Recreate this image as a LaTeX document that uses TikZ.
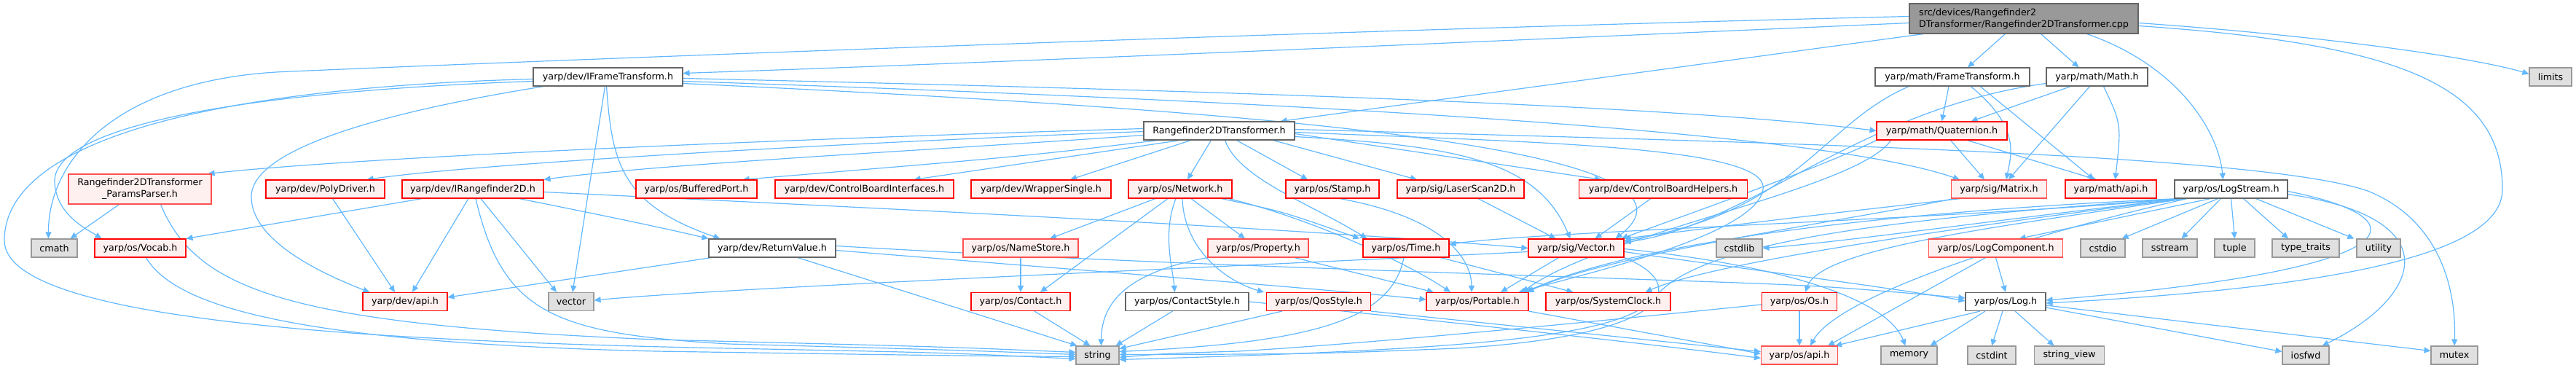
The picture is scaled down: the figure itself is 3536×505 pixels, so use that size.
\documentclass[tikz,border=0pt]{standalone}
\usepackage{fontspec}
\setmainfont{DejaVu Sans}
\usetikzlibrary{arrows.meta,backgrounds}
\definecolor{edgeblue}{HTML}{63B8FF}
\definecolor{pinkfill}{HTML}{FFF0F0}
\definecolor{darkgr}{HTML}{666666}
\definecolor{midgr}{HTML}{999999}
\definecolor{lightgr}{HTML}{E0E0E0}
\definecolor{softred}{HTML}{FF5050}
\tikzset{
  nb/.style={draw, rectangle, minimum height=25, inner sep=0pt, line width=1.1pt, text=black, font=\fontsize{12.7}{16}\selectfont},
  wn/.style={nb, draw=darkgr, fill=white},
  rn/.style={nb, draw=red, fill=pinkfill},
  rs/.style={nb, draw=softred, fill=pinkfill},
  gn/.style={nb, draw=midgr, fill=lightgr},
  mn/.style={nb, draw=darkgr, fill=midgr, align=left, minimum height=41},
  edge/.style={draw=edgeblue, line width=1.2pt, -{Triangle[length=9pt,width=8pt]}},
}
\begin{document}
\begin{tikzpicture}[x=1pt,y=-1pt]
\useasboundingbox (0,0) rectangle (3536,505);
% row 1
\node[mn, minimum width=314] (M) at (2778,25.5) {src/devices/Rangefinder2\\DTransformer/Rangefinder2DTransformer.cpp};
% row 2
\node[wn, minimum width=205] (IFT) at (834.5,105.5) {yarp/dev/IFrameTransform.h};
\node[wn, minimum width=212] (FT) at (2680,105.5) {yarp/math/FrameTransform.h};
\node[wn, minimum width=139] (MA) at (2878.5,105.5) {yarp/math/Math.h};
\node[gn, minimum width=58] (LIM) at (3501,105.5) {limits};
% row 3
\node[wn, minimum width=207] (RH) at (1673.5,179.5) {Rangefinder2DTransformer.h};
\node[rn, minimum width=179] (QU) at (2665.5,179.5) {yarp/math/Quaternion.h};
% row 4
\node[rs, minimum width=196, minimum height=41, align=center] (PP) at (192,259.5) {Rangefinder2DTransformer\\\_ParamsParser.h};
\node[rn, minimum width=163] (PD) at (446.5,259.5) {yarp/dev/PolyDriver.h};
\node[rn, minimum width=194] (IR) at (649,259.5) {yarp/dev/IRangefinder2D.h};
\node[rn, minimum width=166] (BP) at (956,259.5) {yarp/os/BufferedPort.h};
\node[rn, minimum width=245] (CBI) at (1186.5,259.5) {yarp/dev/ControlBoardInterfaces.h};
\node[rn, minimum width=192] (WS) at (1429,259.5) {yarp/dev/WrapperSingle.h};
\node[rn, minimum width=142] (NW) at (1620,259.5) {yarp/os/Network.h};
\node[rn, minimum width=128] (ST) at (1829,259.5) {yarp/os/Stamp.h};
\node[rn, minimum width=174] (LSD) at (2005,259.5) {yarp/sig/LaserScan2D.h};
\node[rn, minimum width=231] (CBH) at (2283,259.5) {yarp/dev/ControlBoardHelpers.h};
\node[rs, minimum width=131] (MX) at (2744,259.5) {yarp/sig/Matrix.h};
\node[rn, minimum width=125] (MAPI) at (2897.5,259.5) {yarp/math/api.h};
\node[wn, minimum width=155] (LS) at (3062.5,259.5) {yarp/os/LogStream.h};
% row 5
\node[gn, minimum width=63] (CM) at (74.5,340.5) {cmath};
\node[rn, minimum width=125] (VO) at (192.5,340.5) {yarp/os/Vocab.h};
\node[wn, minimum width=174] (RV) at (1060,340.5) {yarp/dev/ReturnValue.h};
\node[rs, minimum width=158] (NS) at (1401,340.5) {yarp/os/NameStore.h};
\node[rs, minimum width=138] (PR) at (1727,340.5) {yarp/os/Property.h};
\node[rn, minimum width=118] (TI) at (1930,340.5) {yarp/os/Time.h};
\node[rn, minimum width=131] (VC) at (2163.5,340.5) {yarp/sig/Vector.h};
\node[gn, minimum width=63] (CSL) at (2387.5,340.5) {cstdlib};
\node[rs, minimum width=184] (LC) at (2739.5,340.5) {yarp/os/LogComponent.h};
\node[gn, minimum width=61] (CSI) at (2886.5,340.5) {cstdio};
\node[gn, minimum width=75] (SS) at (2978.5,340.5) {sstream};
\node[gn, minimum width=55] (TU) at (3067.5,340.5) {tuple};
\node[gn, minimum width=92] (TT) at (3165,340.5) {type\_traits};
\node[gn, minimum width=60] (UT) at (3265,340.5) {utility};
% row 6
\node[rn, minimum width=116] (DAPI) at (556,414) {yarp/dev/api.h};
\node[gn, minimum width=62] (VE) at (784,414) {vector};
\node[rn, minimum width=136] (CO) at (1401,414) {yarp/os/Contact.h};
\node[wn, minimum width=169] (CS) at (1629.5,414) {yarp/os/ContactStyle.h};
\node[rn, minimum width=143] (QO) at (1810,414) {yarp/os/QosStyle.h};
\node[rn, minimum width=140] (PO) at (2028,414) {yarp/os/Portable.h};
\node[rn, minimum width=171] (SC) at (2207.5,414) {yarp/os/SystemClock.h};
\node[rn, minimum width=103] (OS) at (2470,414) {yarp/os/Os.h};
\node[wn, minimum width=110] (LG) at (2753,414) {yarp/os/Log.h};
% row 7
\node[gn, minimum width=59] (STR) at (1506.5,487.5) {string};
\node[rs, minimum width=105] (OAPI) at (2470,487.5) {yarp/os/api.h};
\node[gn, minimum width=77] (MEM) at (2620.5,487.5) {memory};
\node[gn, minimum width=66] (CI) at (2734,487.5) {cstdint};
\node[gn, minimum width=96] (SV) at (2840.5,487.5) {string\_view};
\node[gn, minimum width=64] (IOS) at (3165,487.5) {iosfwd};
\node[gn, minimum width=64] (MU) at (3369,487.5) {mutex};

\begin{pgfonlayer}{background}
% ---- edges from main
\draw[edge] ([yshift=3]M.west) .. controls (1800,42) and (700,85) .. (400,98) .. controls (160,106) and (66,220) .. ([xshift=-8]CM.north);
\draw[edge] ([yshift=-6]M.west) .. controls (2200,50) and (1400,85) .. ([yshift=5]IFT.east);
\draw[edge] ([xshift=20]M.south west) -- ([xshift=-20]RH.north east);
\draw[edge] ([xshift=132]M.south west) -- ([xshift=21]FT.north);
\draw[edge] ([xshift=181]M.south west) -- ([xshift=-25]MA.north);
\draw[edge] ([xshift=244]M.south west) .. controls (2990,90) and (3045,180) .. ([xshift=-11]LS.north);
\draw[edge] ([yshift=-6]M.east) .. controls (3200,50) and (3400,80) .. ([yshift=4]LIM.west);
\draw[edge] ([yshift=-10]M.east) .. controls (3300,60) and (3435,120) .. (3435,260) .. controls (3435,350) and (3200,395) .. ([yshift=-2]LG.east);

% ---- IFrameTransform
\draw[edge] ([yshift=-3]IFT.west) .. controls (300,120) and (6,190) .. (6,330) .. controls (6,440) and (500,468) .. (1000,478) .. controls (1300,484) .. ([yshift=-5]STR.west);
\draw[edge] ([yshift=-6]IFT.west) .. controls (350,125) and (72,170) .. (75,250) .. controls (77,295) and (120,315) .. ([xshift=10]VO.north west);
\draw[edge] ([xshift=15]IFT.south west) .. controls (550,150) and (345,200) .. (345,270) .. controls (345,330) and (440,375) .. ([xshift=10]DAPI.north west);
\draw[edge] ([xshift=-4]IFT.south) -- ([xshift=2]VE.north);
\draw[edge] ([xshift=-2]IFT.south) .. controls (840,220) and (850,280) .. ([xshift=16]RV.north west);
\draw[edge] ([yshift=-2]IFT.east) .. controls (1700,125) and (2300,145) .. (QU.west);
\draw[edge] ([yshift=-6]IFT.east) .. controls (1800,140) and (2500,180) .. ([xshift=12]MX.north west);
\draw[edge] ([yshift=-9]IFT.east) .. controls (1700,150) and (2380,200) .. ([xshift=-12]VC.north east);

% ---- Rangefinder2DTransformer.h
\draw[edge] ([yshift=3]RH.west) .. controls (1100,190) and (500,215) .. ([xshift=-5]PP.north east);
\draw[edge] ([yshift=-1]RH.west) .. controls (1150,196) and (650,225) .. ([xshift=-25]PD.north east);
\draw[edge] ([yshift=-6]RH.west) .. controls (1300,205) and (900,225) .. (IR.north east);
\draw[edge] ([xshift=20]RH.south west) .. controls (1400,215) .. ([xshift=-20]BP.north east);
\draw[edge] ([xshift=50]RH.south west) -- ([xshift=-55]CBI.north east);
\draw[edge] ([xshift=65]RH.south west) -- ([xshift=40]WS.north);
\draw[edge] ([xshift=93]RH.south west) -- ([xshift=10]NW.north);
\draw[edge] ([xshift=8]RH.south) .. controls (1700,245) and (1800,280) .. ([xshift=6]TI.north west);
\draw[edge] ([xshift=-80]RH.south east) -- ([xshift=-34]ST.north);
\draw[edge] ([xshift=-30]RH.south east) -- ([xshift=-60]LSD.north);
\draw[edge] ([yshift=-4]RH.east) -- ([xshift=-85]CBH.north);
\draw[edge] ([yshift=-8]RH.east) .. controls (2000,200) and (2110,220) .. ([xshift=-8]VC.north);
\draw[edge] ([yshift=-2]RH.east) .. controls (2100,195) and (2430,200) .. (2420,260) .. controls (2410,320) and (2200,370) .. ([xshift=-14]PO.north east);
\draw[edge] ([yshift=2]RH.east) .. controls (2400,195) and (3100,210) .. (3250,262) .. controls (3345,300) and (3372,390) .. (MU.north);

% ---- IRangefinder2D
\draw[edge] ([xshift=28]IR.south west) -- (VO.north east);
\draw[edge] ([xshift=-6]IR.south) -- ([xshift=10]DAPI.north);
\draw[edge] ([xshift=11]IR.south) -- ([xshift=-20]VE.north);
\draw[edge] ([xshift=4]IR.south) .. controls (690,430) and (760,458) .. (1000,472) .. controls (1300,480) .. ([yshift=1]STR.west);
\draw[edge] ([xshift=-34]IR.south east) .. controls (850,300) and (920,315) .. (RV.north west);
\draw[edge] ([yshift=-4]IR.east) .. controls (1300,290) and (1800,315) .. (VC.west);

\draw[edge] ([xshift=10]PD.south) -- ([xshift=-14]DAPI.north);
\draw[edge] ([xshift=70]PP.south west) -- ([xshift=-10]CM.north east);
\draw[edge] ([xshift=-70]PP.south east) .. controls (270,400) and (400,445) .. (900,466) .. controls (1300,476) .. ([yshift=4]STR.west);
\draw[edge] ([xshift=8]VO.south) .. controls (240,420) and (400,470) .. (900,482) .. controls (1300,488) .. ([yshift=-2]STR.west);

% ---- ReturnValue
\draw[edge] ([xshift=4]RV.south west) -- ([yshift=6]DAPI.east);
\draw[edge] ([xshift=35]RV.south) -- ([xshift=2]STR.north west);
\draw[edge] ([yshift=-3]RV.east) .. controls (1500,372) and (1800,395) .. ([yshift=3]PO.west);
\draw[edge] ([yshift=3]RV.east) .. controls (1500,358) and (1800,368) .. (2300,385) .. controls (2500,392) .. ([yshift=5]LG.west);

% ---- Network
\draw[edge] ([xshift=-34]NW.south) -- ([xshift=40]NS.north);
\draw[edge] ([xshift=-17]NW.south) -- ([xshift=27]CO.north);
\draw[edge] ([xshift=-6]NW.south) .. controls (1595,320) and (1610,370) .. ([xshift=-17]CS.north);
\draw[edge] ([xshift=3]NW.south) .. controls (1625,340) and (1680,385) .. ([xshift=-3]QO.north west);
\draw[edge] ([xshift=15]NW.south) -- ([xshift=-18]PR.north);
\draw[edge] ([xshift=-15]NW.south east) .. controls (1760,290) .. ([xshift=-4]TI.north west);
\draw[edge] ([xshift=-5]NW.south east) .. controls (1800,300) and (1930,360) .. ([xshift=-37]PO.north);

\draw[edge] ([xshift=10]ST.south) .. controls (1990,300) and (2020,360) .. ([xshift=-8]PO.north);
\draw[edge] ([xshift=24]LSD.south) -- ([xshift=-28]VC.north);
\draw[edge] ([xshift=-17]CBH.south) -- ([xshift=26]VC.north);
\draw[edge] (PR.south west) .. controls (1540,375) and (1512,420) .. ([xshift=5]STR.north);
\draw[edge] ([xshift=50]PR.south) -- ([xshift=-60]PO.north);
\draw[edge] (NS) -- (CO);
\draw[edge] ([xshift=19]CO.south) -- ([xshift=-10]STR.north);
\draw[edge] ([xshift=-20]CS.south) -- ([xshift=-5]STR.north east);
\draw[edge] (CS.east) .. controls (1900,432) and (2250,470) .. ([yshift=-4]OAPI.west);
\draw[edge] ([xshift=-50]QO.south) -- ([yshift=9]STR.east);
\draw[edge] (QO.south east) -- ([yshift=5]OAPI.west);

% ---- Time, Vector, Portable, Os
\draw[edge] ([xshift=-3]TI.south) .. controls (1910,440) and (1800,470) .. ([yshift=5]STR.east);
\draw[edge] ([xshift=-12]TI.south east) -- ([xshift=-48]SC.north);
\draw[edge] ([xshift=-24]VC.south) -- ([xshift=32]PO.north);
\draw[edge] (VC.south east) .. controls (2320,390) and (2300,460) .. (2000,478) .. controls (1800,486) .. ([yshift=1]STR.east);
\draw[edge] ([yshift=-5]VC.east) .. controls (2400,370) and (2600,395) .. ([yshift=1]LG.west);
\draw[edge] ([yshift=-1]VC.east) .. controls (2450,365) and (2590,410) .. ([xshift=-5]MEM.north);
\draw[edge] ([yshift=-5]VC.west) .. controls (1600,370) and (1000,395) .. ([yshift=2]VE.east);
\draw[edge] (PO.south east) -- ([yshift=2]OAPI.west);
\draw[edge] (OS) -- (OAPI);
\draw[edge] ([yshift=-4]OS.west) .. controls (2200,440) and (1900,470) .. (1700,482) .. controls (1600,485) .. ([yshift=-3]STR.east);

% ---- Log, LogComponent
\draw[edge] ([xshift=-35]LG.south) -- ([xshift=-4]OAPI.north east);
\draw[edge] ([xshift=-28]LG.south) -- ([xshift=-10]MEM.north east);
\draw[edge] ([xshift=-4]LG.south) -- (CI.north);
\draw[edge] ([xshift=13]LG.south) -- ([xshift=-21]SV.north);
\draw[edge] ([yshift=-8]LG.east) -- ([yshift=5]IOS.west);
\draw[edge] ([yshift=-5]LG.east) -- ([yshift=6]MU.west);
\draw[edge] (LC.south) -- (LG.north);
\draw[edge] ([xshift=-14]LC.south) -- ([xshift=-14]OAPI.north east);

% ---- LogStream
\draw[edge] ([xshift=-28]LS.south) -- ([xshift=32]LC.north);
\draw[edge] ([xshift=-18]LS.south) -- ([xshift=-5]CSI.north east);
\draw[edge] ([xshift=-14]LS.south) -- ([xshift=16]SS.north);
\draw[edge] (LS.south) -- (TU.north);
\draw[edge] ([xshift=17]LS.south) -- ([xshift=-24]TT.north);
\draw[edge] ([xshift=34]LS.south) -- ([xshift=-3]UT.north west);
\draw[edge] ([yshift=-3]LS.east) .. controls (3330,300) and (3320,370) .. ([yshift=2]LG.east);
\draw[edge] ([yshift=-7]LS.east) .. controls (3370,300) and (3320,410) .. ([xshift=-10]IOS.north east);
\draw[edge] ([xshift=10]LS.south west) .. controls (2700,300) and (2100,318) .. ([yshift=5]TI.east);
\draw[edge] ([xshift=12]LS.south west) .. controls (2750,300) and (2550,330) .. (CSL.east);
\draw[edge] ([xshift=14]LS.south west) .. controls (2700,310) and (2350,360) .. ([xshift=-35]SC.north east);
\draw[edge] ([xshift=16]LS.south west) .. controls (2750,310) and (2500,340) .. ([xshift=8]OS.north);
\draw[edge] ([xshift=18]LS.south west) .. controls (2750,330) and (2520,410) .. ([xshift=15]OAPI.north);
\draw[edge] ([xshift=8]LS.south west) .. controls (2600,300) and (2330,330) .. (2270,410) .. controls (2220,465) and (2000,480) .. ([yshift=-6]STR.east);
\draw[edge] ([xshift=6]LS.south west) .. controls (2600,290) and (2250,330) .. ([xshift=-5]PO.north east);

% ---- Quaternion, Matrix
\draw[edge] ([xshift=12]QU.south) -- ([xshift=-20]MX.north);
\draw[edge] ([xshift=35]QU.south) -- ([xshift=-20]MAPI.north);
\draw[edge] (QU.south west) .. controls (2500,230) and (2300,300) .. ([xshift=-4]VC.north east);
\draw[edge] ([xshift=20]QU.south west) .. controls (2550,260) and (2200,320) .. ([xshift=-9]PO.north east);
\draw[edge] ([xshift=-53]MX.south) .. controls (2450,300) .. (VC.north east);
\draw[edge] ([xshift=-62]MX.south) .. controls (2550,300) and (2200,350) .. ([xshift=-2]PO.north east);

% ---- FrameTransform, Math
\draw[edge] ([xshift=-5]FT.south) -- (QU.north);
\draw[edge] ([xshift=25]FT.south) .. controls (2775,175) and (2760,215) .. ([xshift=10]MX.north);
\draw[edge] ([xshift=38]FT.south) -- ([xshift=-23]MAPI.north);
\draw[edge] ([xshift=47]FT.south west) .. controls (2500,170) and (2470,290) .. ([yshift=-3]VC.north east);
\draw[edge] ([xshift=-36]MA.south) -- ([xshift=40]QU.north);
\draw[edge] ([xshift=-10]MA.south) -- ([xshift=13]MX.north);
\draw[edge] ([xshift=9]MA.south) .. controls (2912,170) .. ([xshift=6]MAPI.north);
\draw[edge] ([yshift=-9]MA.west) .. controls (2550,150) and (2400,310) .. ([yshift=-5]VC.north east);
\end{pgfonlayer}
\end{tikzpicture}
\end{document}
